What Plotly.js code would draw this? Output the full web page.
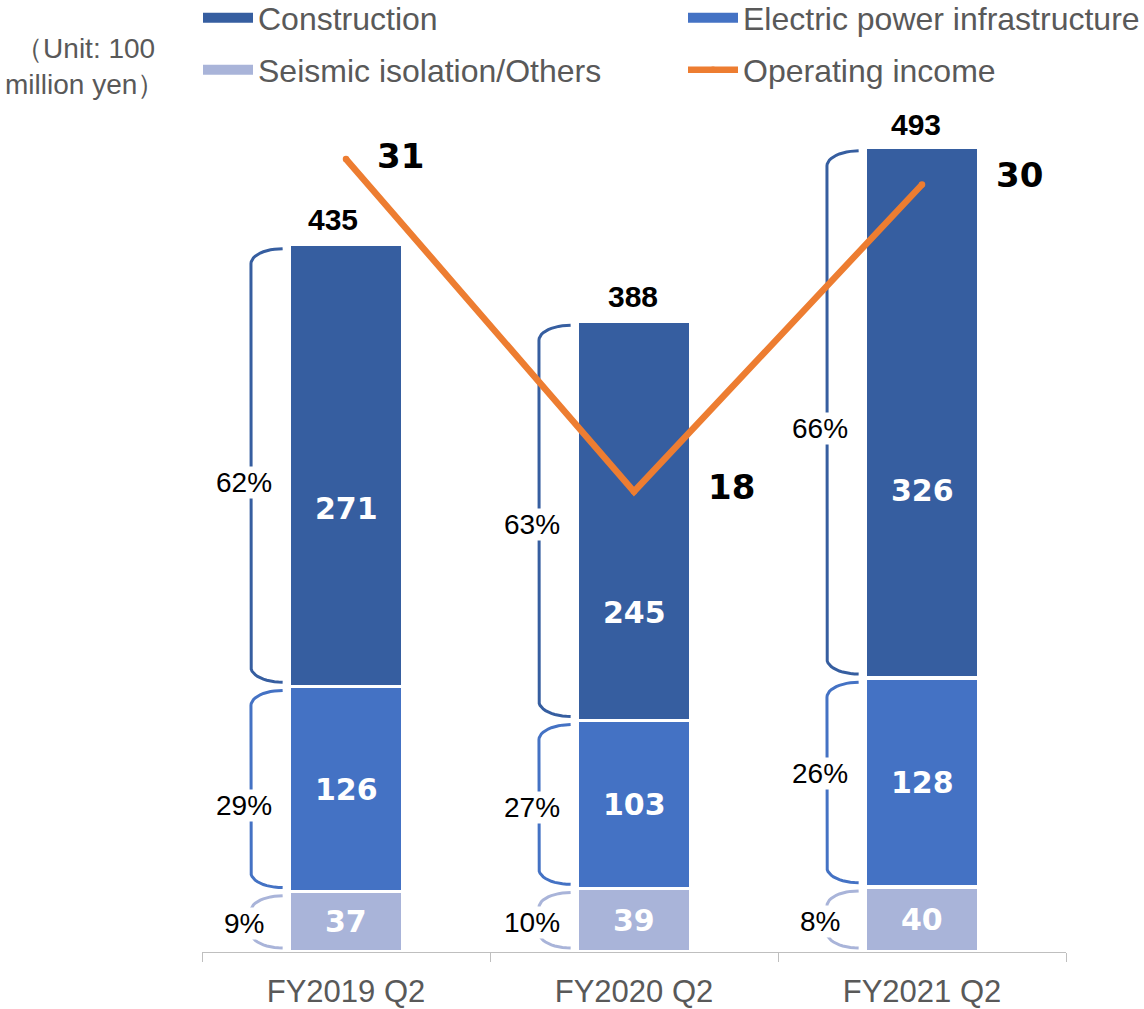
<!DOCTYPE html>
<html>
<head>
<meta charset="utf-8">
<script src="https://cdn.plot.ly/plotly-3.0.1.min.js"></script>
<style>
  html, body { margin: 0; padding: 0; background: #fff; }
  #chart { width: 1144px; height: 1009px; }
</style>
</head>
<body>
<div id="chart"></div>
<script>
// Net sales by segment (100 million yen) and operating income
const categories = ['FY2019 Q2', 'FY2020 Q2', 'FY2021 Q2'];
const construction = [271, 245, 326];
const electricPower = [126, 103, 128];
const seismicOthers = [37, 39, 40];
const totalSales = [435, 388, 493];
const operatingIncome = [31, 18, 30];

const seriesNames = ['Construction', 'Electric power infrastructure', 'Seismic isolation/Others', 'Operating income'];

const COLORS = {
  construction: '#365EA0',
  electric: '#4472C4',
  seismic: '#A9B4D9',
  income: '#ED7D31',
  text: '#595959',
  axis: '#BFBFBF'
};
const SANS = 'Liberation Sans, Arial, sans-serif';
const WIDE_BOLD = 'DejaVu Sans, Verdana, sans-serif';

const W = 1144, H = 1009;
const plotLeft = 202, plotRight = 1066, plotTop = 100, plotBottom = 952;
const plotW = plotRight - plotLeft, plotH = plotBottom - plotTop;
const pxPerSales = 1.63, pxPerIncome = 25.58;

// pixel position -> paper fraction
const px = v => (v - plotLeft) / plotW;
const py = v => (plotBottom - v) / plotH;

const xPos = categories.map((c, i) => i);

// stacked segment extents, bottom to top
const stackOrder = [seismicOthers, electricPower, construction];
const stackColors = [COLORS.seismic, COLORS.electric, COLORS.construction];
const segments = stackOrder.map((vals, s) => vals.map((v, i) => {
  let lo = 0;
  for (let k = 0; k < s; k++) lo += stackOrder[k][i];
  return { lo: lo, hi: lo + v, v: v };
}));

// rounded "[" bracket to the left of a stacked segment
function bracket(i, lo, hi) {
  const inset = 2.5;
  const y0 = lo + inset, y1 = hi - inset;
  const xv = i - 0.33, xe = i - 0.22;
  const rx = xe - xv;
  const ry = Math.min(9.2, (y1 - y0) / 2);
  const xs = [], ys = [];
  const n = 12;
  for (let k = 0; k <= n; k++) {
    const t = (Math.PI / 2) * k / n;
    xs.push(xe - rx * Math.sin(t));
    ys.push(y1 - ry + ry * Math.cos(t));
  }
  for (let k = 0; k <= n; k++) {
    const t = (Math.PI / 2) * k / n;
    xs.push(xe - rx * Math.cos(t));
    ys.push(y0 + ry - ry * Math.sin(t));
  }
  return { xs: xs, ys: ys };
}

const traces = [];

// legend entries, one legend box per entry
function legendProxy(name, color, legendId) {
  return {
    type: 'scatter', mode: 'lines', x: [null], y: [null], name: name,
    line: { color: color, width: 11 }, legend: legendId, hoverinfo: 'skip'
  };
}
traces.push(
  legendProxy(seriesNames[0], COLORS.construction, 'legend'),
  legendProxy(seriesNames[1], COLORS.electric, 'legend2'),
  legendProxy(seriesNames[2], COLORS.seismic, 'legend3')
);

// stacked bars
const barNames = [seriesNames[2], seriesNames[1], seriesNames[0]];
stackOrder.forEach((vals, s) => {
  traces.push({
    type: 'bar',
    x: xPos,
    y: vals,
    name: barNames[s],
    marker: { color: stackColors[s], line: { color: '#ffffff', width: 3.5 } },
    width: 0.397,
    showlegend: false,
    hoverinfo: 'name+y'
  });
});

// operating income line (secondary axis)
traces.push({
  type: 'scatter',
  mode: 'lines+markers',
  x: xPos,
  y: operatingIncome,
  yaxis: 'y2',
  name: seriesNames[3],
  line: { color: COLORS.income, width: 6.5 },
  marker: { color: COLORS.income, size: 6.5 },
  legend: 'legend4',
  hoverinfo: 'name+y'
});

// share brackets
segments.forEach((seg, s) => {
  const xs = [], ys = [];
  seg.forEach((g, i) => {
    const b = bracket(i, g.lo, g.hi);
    xs.push(...b.xs, null);
    ys.push(...b.ys, null);
  });
  traces.push({
    type: 'scatter', mode: 'lines', x: xs, y: ys,
    line: { color: stackColors[s], width: 3 },
    hoverinfo: 'skip', showlegend: false
  });
});

// annotations
const annotations = [];

// label offsets in px: [stack level][bar]
const valueLabelShift = [[0, 0, 0], [0, 0, 0], [-43, -92, -78]];
const shareLabelShift = [[-2, -2, -2], [-16, -3, 9], [-17, -4, -16]];
segments.forEach((seg, s) => {
  seg.forEach((g, i) => {
    annotations.push({
      x: i, y: (g.lo + g.hi) / 2, xref: 'x', yref: 'y',
      text: String(g.v), showarrow: false,
      yshift: valueLabelShift[s][i],
      font: { family: WIDE_BOLD, size: 30, color: '#ffffff', weight: 'bold' }
    });
    annotations.push({
      x: i - 0.355, y: (g.lo + g.hi) / 2, xref: 'x', yref: 'y',
      text: Math.round(g.v / totalSales[i] * 100) + '%', showarrow: false,
      yshift: shareLabelShift[s][i],
      bgcolor: '#ffffff', borderpad: 0,
      font: { family: SANS, size: 28, color: '#000000' }
    });
  });
});

// totals above bars
const totalShiftX = [-13, -1, -6];
totalSales.forEach((t, i) => {
  annotations.push({
    x: i, y: t, xref: 'x', yref: 'y', text: String(t), showarrow: false,
    yanchor: 'bottom', yshift: 5, xshift: totalShiftX[i],
    font: { family: SANS, size: 30, color: '#000000', weight: 'bold' }
  });
});

// operating income values
const incomeShift = [[54, 3], [97, 5], [97, 10]];
operatingIncome.forEach((v, i) => {
  annotations.push({
    x: i, y: v, xref: 'x', yref: 'y2', text: String(v), showarrow: false,
    xshift: incomeShift[i][0], yshift: incomeShift[i][1],
    font: { family: WIDE_BOLD, size: 34, color: '#000000', weight: 'bold' }
  });
});

// unit note
annotations.push({
  x: px(85), y: py(67), xref: 'paper', yref: 'paper',
  text: '（Unit: 100<br>million yen）',
  showarrow: false, align: 'center', xanchor: 'center', yanchor: 'middle',
  font: { family: SANS, size: 28, color: COLORS.text }
});

function legendAt(leftPx, centerYPx) {
  return {
    orientation: 'v', x: px(leftPx), xanchor: 'left',
    y: py(centerYPx), yanchor: 'middle',
    font: { family: SANS, size: 32, color: COLORS.text },
    itemwidth: 50, bgcolor: 'rgba(0,0,0,0)', borderwidth: 0
  };
}

const layout = {
  width: W, height: H,
  margin: { l: plotLeft, r: W - plotRight, t: plotTop, b: H - plotBottom, pad: 0, autoexpand: false },
  paper_bgcolor: '#ffffff', plot_bgcolor: '#ffffff',
  barmode: 'stack',
  showlegend: true,
  legend: legendAt(198, 18),
  legend2: legendAt(683, 18),
  legend3: legendAt(198, 70),
  legend4: legendAt(683, 70),
  xaxis: {
    range: [-0.5, 2.5], tickmode: 'array', tickvals: xPos, ticktext: categories,
    ticks: '', showgrid: false, zeroline: false,
    showline: true, linecolor: COLORS.axis, linewidth: 1.3,
    tickfont: { family: SANS, size: 31, color: COLORS.text },
    ticklabelstandoff: 12,
    minor: { tickmode: 'linear', tick0: -0.5, dtick: 1, ticks: 'outside', ticklen: 9, tickcolor: COLORS.axis, tickwidth: 1.3, showgrid: false },
    fixedrange: true
  },
  yaxis: { range: [0, plotH / pxPerSales], visible: false, fixedrange: true },
  yaxis2: { range: [0, plotH / pxPerIncome], overlaying: 'y', visible: false, fixedrange: true },
  annotations: annotations
};

Plotly.newPlot('chart', traces, layout, { displayModeBar: false });
</script>
</body>
</html>
